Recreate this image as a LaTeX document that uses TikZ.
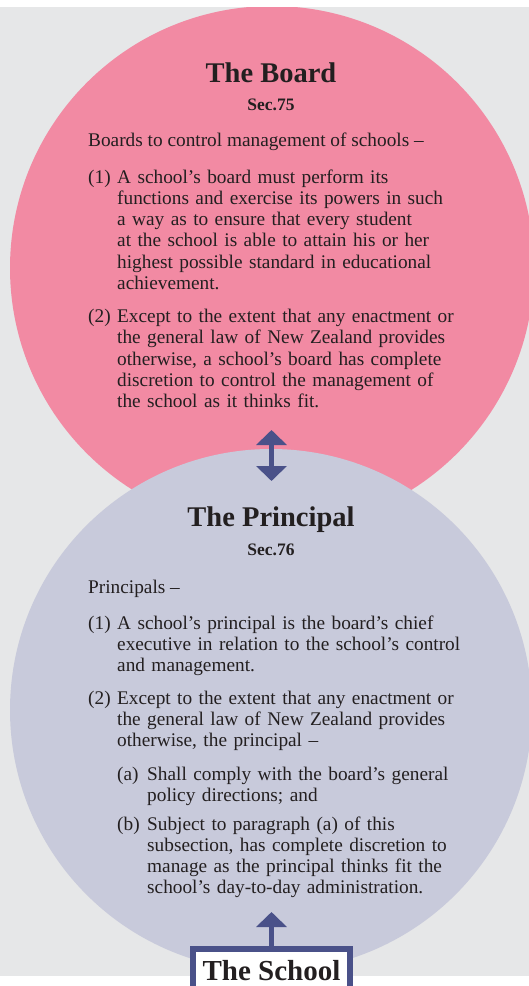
\documentclass[tikz,border=0pt]{standalone}
\usepackage{fontspec}
\setmainfont{Liberation Serif}
\usetikzlibrary{arrows.meta}
\definecolor{paper}{HTML}{E6E7E8}
\definecolor{boardpink}{HTML}{F28AA3}
\definecolor{principalgrey}{HTML}{C8CADB}
\definecolor{linkblue}{HTML}{4A5189}
\definecolor{ink}{HTML}{231F20}
\tikzset{
  headtext/.style={font=\fontsize{28.5}{30}\selectfont\bfseries, text=ink, inner sep=0, anchor=base},
  secno/.style={font=\fontsize{17.5}{20}\selectfont\bfseries, text=ink, inner sep=0, anchor=base},
  body/.style={font=\fontsize{19.3}{21.2}\selectfont, text=ink, inner sep=0, anchor=base west, text width=360pt, align=left},
  num/.style={font=\fontsize{19.3}{21.2}\selectfont, text=ink, inner sep=0, anchor=base west},
  disc/.style={circle, inner sep=0, minimum size=#1},
  link/.style={draw=linkblue, line width=5.5pt, {Triangle[width=30pt,length=15pt]}-{Triangle[width=30pt,length=15pt]}},
  uplink/.style={draw=linkblue, line width=5.5pt, -{Triangle[width=30pt,length=15pt]}},
  schoolbox/.style={draw=linkblue, fill=white, line width=6pt, minimum width=157pt, minimum height=44pt, inner sep=0, font=\fontsize{29}{30}\selectfont\bfseries, text=ink}
}

\begin{document}
\begin{tikzpicture}[x=1pt, y=-1pt]
    \useasboundingbox (0,0) rectangle (529,986);
    \fill[paper] (0,7) rectangle (529,976);

    % circles
    \begin{scope}
        \clip (0,7) rectangle (529,976);
        \node[disc=524pt, fill=boardpink] (board) at (272,268) {};
        \node[disc=522pt, fill=principalgrey] (principal) at (271,710) {};
    \end{scope}

    % The Board
    \node[headtext] (board head) at (271,82) {The Board};
    \node[secno] (board sec) at (271,110) {Sec.75};
    \node[num] (board intro) at (88,146.7) {Boards to control management of schools –};
    \node[num] (b1 num) at (88,183.3) {(1)};
    \node[body] (b1) at (117,183.3) {A school’s board must perform its\\
        functions and exercise its powers in such\\
        a way as to ensure that every student\\
        at the school is able to attain his or her\\
        highest possible standard in educational\\
        achievement.};
    \node[num] (b2 num) at (88,322.7) {(2)};
    \node[body] (b2) at (117,322.7) {Except to the extent that any enactment or\\
        the general law of New Zealand provides\\
        otherwise, a school’s board has complete\\
        discretion to control the management of\\
        the school as it thinks fit.};

    % The Principal
    \node[headtext] (principal head) at (271,526.7) {The Principal};
    \node[secno] (principal sec) at (271,555) {Sec.76};
    \node[num] (principal intro) at (88,593.3) {Principals –};
    \node[num] (p1 num) at (88,629.3) {(1)};
    \node[body] (p1) at (117,629.3) {A school’s principal is the board’s chief\\
        executive in relation to the school’s control\\
        and management.};
    \node[num] (p2 num) at (88,704) {(2)};
    \node[body] (p2) at (117,704) {Except to the extent that any enactment or\\
        the general law of New Zealand provides\\
        otherwise, the principal –};
    \node[num] (pa num) at (117,780.7) {(a)};
    \node[body] (pa) at (147,780.7) {Shall comply with the board’s general\\
        policy directions; and};
    \node[num] (pb num) at (117,830) {(b)};
    \node[body] (pb) at (147,830) {Subject to paragraph (a) of this\\
        subsection, has complete discretion to\\
        manage as the principal thinks fit the\\
        school’s day-to-day administration.};

    % Arrows
    \coordinate (link top) at (271.5,430);
    \coordinate (link bottom) at (271.5,481);
    \draw[link] (link top) -- (link bottom);

    \node[schoolbox, anchor=north] (school) at (271.5,946) {The School};
    \coordinate (school tip) at (271.5,912);
    \draw[uplink] (school.north) -- (school tip);
\end{tikzpicture}
\end{document}
